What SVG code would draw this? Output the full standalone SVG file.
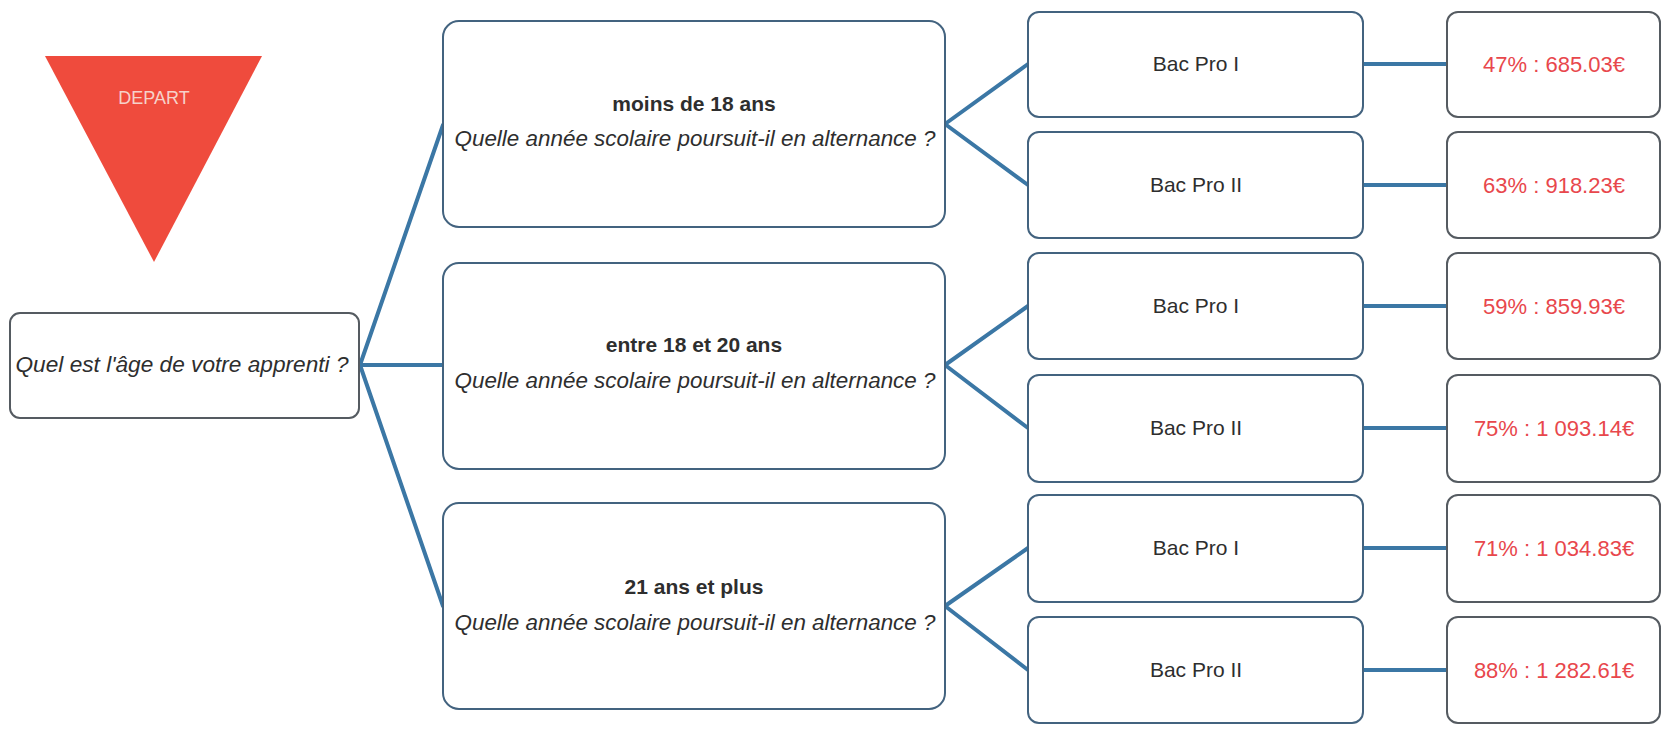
<svg xmlns="http://www.w3.org/2000/svg" width="1662" height="731" viewBox="0 0 1662 731">
<style>
.box{fill:#ffffff;stroke:#43637f;stroke-width:2}
.gbox{fill:#ffffff;stroke:#555b61;stroke-width:2}
.con{stroke:#3b77a5;stroke-width:4;fill:none;stroke-linecap:round}
.t{font-family:"Liberation Sans",Arial,sans-serif;fill:#2e2e2e;text-anchor:middle}
.b{font-weight:bold;font-size:21px}
.i{font-style:italic;font-size:22px}
.bac{font-size:21px}
.res{font-family:"Liberation Sans",Arial,sans-serif;fill:#e8474c;font-size:22px;text-anchor:middle}
</style>
<rect width="1662" height="731" fill="#ffffff"/>
<g id="connectors">
<line class="con" x1="360" y1="365" x2="443" y2="125"/>
<line class="con" x1="360" y1="365" x2="443" y2="365"/>
<line class="con" x1="360" y1="365" x2="443" y2="606"/>
<line class="con" x1="945" y1="124" x2="1028" y2="64"/>
<line class="con" x1="945" y1="124" x2="1028" y2="185"/>
<line class="con" x1="945" y1="365" x2="1028" y2="306"/>
<line class="con" x1="945" y1="365" x2="1028" y2="428"/>
<line class="con" x1="945" y1="606" x2="1028" y2="548"/>
<line class="con" x1="945" y1="606" x2="1028" y2="670"/>
<line class="con" x1="1363" y1="64" x2="1447" y2="64"/>
<line class="con" x1="1363" y1="185" x2="1447" y2="185"/>
<line class="con" x1="1363" y1="306" x2="1447" y2="306"/>
<line class="con" x1="1363" y1="428" x2="1447" y2="428"/>
<line class="con" x1="1363" y1="548" x2="1447" y2="548"/>
<line class="con" x1="1363" y1="670" x2="1447" y2="670"/>
</g>
<g id="depart">
<polygon points="45,56 262,56 154,262" fill="#ef4b3d"/>
<text x="154" y="104" font-family="'Liberation Sans',Arial,sans-serif" font-size="18" fill="#f6d2ca" text-anchor="middle">DEPART</text>
</g>
<g id="root">
<rect class="gbox" x="10" y="313" width="349" height="105" rx="10"/>
<text class="t i" x="182" y="372" textLength="333" lengthAdjust="spacingAndGlyphs">Quel est l'âge de votre apprenti ?</text>
</g>
<g id="age1">
<rect class="box" x="443" y="21" width="502" height="206" rx="16"/>
<text class="t b" x="694" y="111">moins de 18 ans</text>
<text class="t i" x="695" y="146" textLength="481" lengthAdjust="spacingAndGlyphs">Quelle année scolaire poursuit-il en alternance ?</text>
</g>
<g id="age2">
<rect class="box" x="443" y="263" width="502" height="206" rx="16"/>
<text class="t b" x="694" y="352">entre 18 et 20 ans</text>
<text class="t i" x="695" y="388" textLength="481" lengthAdjust="spacingAndGlyphs">Quelle année scolaire poursuit-il en alternance ?</text>
</g>
<g id="age3">
<rect class="box" x="443" y="503" width="502" height="206" rx="16"/>
<text class="t b" x="694" y="594">21 ans et plus</text>
<text class="t i" x="695" y="630" textLength="481" lengthAdjust="spacingAndGlyphs">Quelle année scolaire poursuit-il en alternance ?</text>
</g>
<g id="bac1a"><rect class="box" x="1028" y="12" width="335" height="105" rx="11"/><text class="t bac" x="1196" y="71">Bac Pro I</text></g>
<g id="bac1b"><rect class="box" x="1028" y="132" width="335" height="106" rx="11"/><text class="t bac" x="1196" y="192">Bac Pro II</text></g>
<g id="bac2a"><rect class="box" x="1028" y="253" width="335" height="106" rx="11"/><text class="t bac" x="1196" y="313">Bac Pro I</text></g>
<g id="bac2b"><rect class="box" x="1028" y="375" width="335" height="107" rx="11"/><text class="t bac" x="1196" y="435">Bac Pro II</text></g>
<g id="bac3a"><rect class="box" x="1028" y="495" width="335" height="107" rx="11"/><text class="t bac" x="1196" y="555">Bac Pro I</text></g>
<g id="bac3b"><rect class="box" x="1028" y="617" width="335" height="106" rx="11"/><text class="t bac" x="1196" y="677">Bac Pro II</text></g>
<g id="res1a"><rect class="gbox" x="1447" y="12" width="213" height="105" rx="11"/><text class="res" x="1554" y="72">47% : 685.03€</text></g>
<g id="res1b"><rect class="gbox" x="1447" y="132" width="213" height="106" rx="11"/><text class="res" x="1554" y="193">63% : 918.23€</text></g>
<g id="res2a"><rect class="gbox" x="1447" y="253" width="213" height="106" rx="11"/><text class="res" x="1554" y="314">59% : 859.93€</text></g>
<g id="res2b"><rect class="gbox" x="1447" y="375" width="213" height="107" rx="11"/><text class="res" x="1554" y="436">75% : 1 093.14€</text></g>
<g id="res3a"><rect class="gbox" x="1447" y="495" width="213" height="107" rx="11"/><text class="res" x="1554" y="556">71% : 1 034.83€</text></g>
<g id="res3b"><rect class="gbox" x="1447" y="617" width="213" height="106" rx="11"/><text class="res" x="1554" y="678">88% : 1 282.61€</text></g>
</svg>
